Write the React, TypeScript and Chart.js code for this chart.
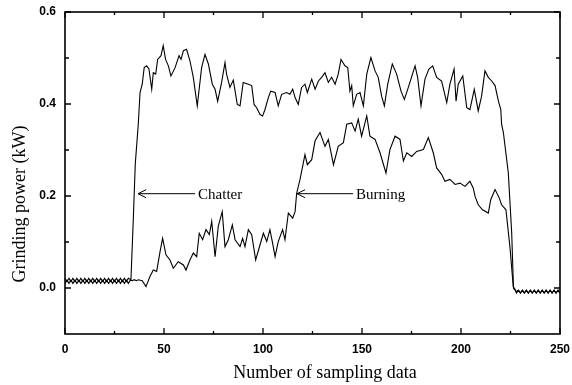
import React, { useEffect, useRef } from "react";
import { Chart, registerables } from "chart.js";

Chart.register(...registerables);

// Upper trace (chatter)
const upperX = [
  0, 1, 2, 3, 4, 5, 6, 7, 8, 9, 10, 11, 12, 13, 14, 15, 16, 17, 18, 19, 20, 21, 22, 23, 24, 25, 26, 27, 28, 29, 30, 31, 32,
  33.3, 34.5, 35.5, 37, 37.9, 39, 40, 41.2, 42.4, 43.8, 44.6, 45.8, 46.8, 48.5, 49.6, 50.8, 52.2, 53.5, 55.6, 57.6, 58.6,
  59.8, 61.4, 63.1, 64.8, 66.8, 69, 70.7, 72.4, 74.4, 75.8, 77.1, 79.1, 80.8, 81.6, 83.3, 85, 87, 88.4, 90, 92.6, 94.3,
  95.5, 96.8, 98.5, 99.8, 101, 102.7, 103.9, 106.1, 107.7, 109.4, 111.9, 113.6, 115, 116.2, 117.8, 119.5, 121.2, 122.4,
  124.6, 126.3, 128, 129.6, 131.3, 133, 134.7, 136.4, 138, 139.4, 141.4, 142.8, 143.9, 144.8, 145.6, 147.3, 149, 150.7,
  152.4, 154.5, 156.6, 158.2, 159.9, 161.3, 163, 165.3, 167.5, 169.7, 171.4, 173.4, 176.8, 178.1, 179.8, 181.8, 183.8,
  185.7, 187.7, 190.2, 192.8, 194.4, 196.5, 197.5, 198.6, 200.9, 202.9, 204.5, 206.7, 208.7, 210.4, 212.1, 213.8, 215.5,
  217.2, 218.9, 220.1, 220.5, 221.4, 223.9, 225.6, 226.5, 227.5,
  228, 229, 230, 231, 232, 233, 234, 235, 236, 237, 238, 239, 240, 241, 242, 243, 244, 245, 246, 247, 248, 249, 250,
];
const upperY = [
  0.021, 0.014, 0.021, 0.014, 0.021, 0.014, 0.021, 0.014, 0.021, 0.014, 0.021, 0.014, 0.021, 0.014, 0.021, 0.014, 0.021,
  0.014, 0.021, 0.014, 0.021, 0.014, 0.021, 0.014, 0.021, 0.014, 0.021, 0.014, 0.021, 0.014, 0.021, 0.014, 0.021,
  0.018, 0.15, 0.27, 0.356, 0.425, 0.443, 0.479, 0.483, 0.476, 0.432, 0.468, 0.465, 0.497, 0.505, 0.527, 0.497, 0.483,
  0.461, 0.479, 0.505, 0.497, 0.516, 0.519, 0.494, 0.458, 0.396, 0.479, 0.508, 0.487, 0.443, 0.432, 0.406, 0.447, 0.49,
  0.465, 0.436, 0.452, 0.399, 0.396, 0.447, 0.443, 0.44, 0.399, 0.392, 0.377, 0.374, 0.388, 0.414, 0.428, 0.425, 0.396,
  0.421, 0.425, 0.421, 0.432, 0.414, 0.399, 0.436, 0.443, 0.425, 0.454, 0.432, 0.45, 0.458, 0.468, 0.447, 0.458, 0.443,
  0.465, 0.497, 0.483, 0.479, 0.428, 0.44, 0.396, 0.421, 0.425, 0.396, 0.465, 0.501, 0.472, 0.458, 0.417, 0.396, 0.443,
  0.487, 0.465, 0.428, 0.41, 0.436, 0.483, 0.458, 0.396, 0.454, 0.476, 0.483, 0.458, 0.45, 0.403, 0.443, 0.476, 0.406,
  0.443, 0.461, 0.392, 0.388, 0.432, 0.385, 0.417, 0.472, 0.458, 0.45, 0.44, 0.406, 0.388, 0.356, 0.338, 0.25, 0.12, 0.0,
  -0.006,
  -0.011, -0.005, -0.011, -0.005, -0.011, -0.005, -0.011, -0.005, -0.011, -0.005, -0.011, -0.005, -0.011, -0.005, -0.011,
  -0.005, -0.011, -0.005, -0.011, -0.005, -0.011, -0.005, -0.011,
];

// Lower trace (burning)
const lowerX = [
  0, 1, 2, 3, 4, 5, 6, 7, 8, 9, 10, 11, 12, 13, 14, 15, 16, 17, 18, 19, 20, 21, 22, 23, 24, 25, 26, 27, 28, 29, 30, 31, 32,
  33, 34, 35, 36, 37, 38, 39,
  40.9, 42.9, 44.6, 46.3, 48, 49.3, 51, 53, 54.7, 57.2, 59.8, 61.1, 63.1, 64.8, 66.5, 67.8, 69.5, 71.2, 72.9, 74.1, 75.8,
  77.4, 79.4, 80.8, 82.5, 84.5, 85.9, 88.4, 89.7, 90.9, 92.6, 94.3, 96.3, 98.5, 100.2, 101.9, 103.5, 104.7, 106.1, 107.7,
  109.9, 111.1, 112.8, 115, 116.2, 117, 118.7, 121.2, 122.4, 124.6, 126.3, 128.8, 131.3, 133, 135.6, 138, 140.6, 142.3,
  144.8, 146.5, 148.1, 149.8, 152.4, 154, 156.6, 159.1, 162.1, 164.1, 166.7, 169.2, 170.9, 172.6, 175.1, 177.6, 181,
  183.5, 186, 187.7, 190.2, 191.9, 194.4, 197, 199.5, 202, 204.5, 206.2, 207.1, 208.7, 210.9, 213.8, 215, 217.2, 219.3,
  220.5, 222.7, 224.7, 226.4, 228,
  229, 230, 231, 232, 233, 234, 235, 236, 237, 238, 239, 240, 241, 242, 243, 244, 245, 246, 247, 248, 249, 250,
];
const lowerY = [
  0.010, 0.017, 0.010, 0.017, 0.010, 0.017, 0.010, 0.017, 0.010, 0.017, 0.010, 0.017, 0.010, 0.017, 0.010, 0.017, 0.010,
  0.017, 0.010, 0.017, 0.010, 0.017, 0.010, 0.017, 0.010, 0.017, 0.010, 0.017, 0.010, 0.017, 0.010, 0.017, 0.010,
  0.017, 0.016, 0.018, 0.016, 0.018, 0.017, 0.016,
  0.003, 0.025, 0.039, 0.036, 0.079, 0.108, 0.072, 0.061, 0.043, 0.057, 0.05, 0.039, 0.061, 0.076, 0.068, 0.119, 0.105,
  0.127, 0.116, 0.145, 0.068, 0.134, 0.166, 0.09, 0.105, 0.137, 0.105, 0.09, 0.108, 0.09, 0.127, 0.116, 0.061, 0.094,
  0.119, 0.101, 0.127, 0.101, 0.068, 0.101, 0.127, 0.105, 0.163, 0.152, 0.166, 0.206, 0.236, 0.29, 0.268, 0.279, 0.32,
  0.338, 0.308, 0.323, 0.268, 0.308, 0.316, 0.356, 0.359, 0.341, 0.367, 0.33, 0.374, 0.33, 0.323, 0.294, 0.25, 0.301,
  0.33, 0.323, 0.276, 0.294, 0.286, 0.297, 0.301, 0.327, 0.294, 0.261, 0.247, 0.232, 0.236, 0.225, 0.228, 0.221, 0.232,
  0.217, 0.199, 0.181, 0.17, 0.163, 0.192, 0.214, 0.196, 0.181, 0.17, 0.09, 0.003, -0.008,
  -0.005, -0.011, -0.005, -0.011, -0.005, -0.011, -0.005, -0.011, -0.005, -0.011, -0.005, -0.011, -0.005, -0.011, -0.005,
  -0.011, -0.005, -0.011, -0.005, -0.011, -0.005, -0.011,
];

const xMajorTicks = [0, 50, 100, 150, 200, 250];
const xMinorTicks = [25, 75, 125, 175, 225];
const yMajorTicks = [0.0, 0.2, 0.4, 0.6];
const yMinorTicks = [0.1, 0.3, 0.5];

const noteLabels = ["Chatter", "Burning"];
const noteTipX = [36.9, 117.2];
const noteTailX = [65.7, 145.5];
const noteY = [0.205, 0.205];

const xTitle = "Number of sampling data";
const yTitle = "Grinding power (kW)";

const SERIF = "'Liberation Serif', 'DejaVu Serif', serif";
const SANS = "'Liberation Sans', Arial, sans-serif";

const framePlugin = {
  id: "frameTicks",
  afterDraw(chart: any) {
    const { ctx, chartArea: a, scales } = chart;
    const xs = scales.x;
    const ys = scales.y;
    ctx.save();
    ctx.strokeStyle = "#000";
    ctx.lineWidth = 1.6;
    ctx.strokeRect(a.left, a.top, a.right - a.left, a.bottom - a.top);
    ctx.lineWidth = 1.3;
    const drawX = (v: number, len: number) => {
      const p = xs.getPixelForValue(v);
      ctx.beginPath();
      ctx.moveTo(p, a.bottom);
      ctx.lineTo(p, a.bottom - len);
      ctx.moveTo(p, a.top);
      ctx.lineTo(p, a.top + len);
      ctx.stroke();
    };
    const drawY = (v: number, len: number) => {
      const p = ys.getPixelForValue(v);
      ctx.beginPath();
      ctx.moveTo(a.left, p);
      ctx.lineTo(a.left + len, p);
      ctx.moveTo(a.right, p);
      ctx.lineTo(a.right - len, p);
      ctx.stroke();
    };
    xMajorTicks.forEach((v) => drawX(v, 6));
    xMinorTicks.forEach((v) => drawX(v, 3));
    yMajorTicks.forEach((v) => drawY(v, 6));
    yMinorTicks.forEach((v) => drawY(v, 4));

    // annotations
    ctx.lineWidth = 1;
    ctx.fillStyle = "#000";
    ctx.font = `15px ${SERIF}`;
    ctx.textBaseline = "middle";
    ctx.textAlign = "left";
    noteLabels.forEach((label, i) => {
      const tx = xs.getPixelForValue(noteTipX[i]);
      const ex = xs.getPixelForValue(noteTailX[i]);
      const y = ys.getPixelForValue(noteY[i]);
      ctx.beginPath();
      ctx.moveTo(tx, y);
      ctx.lineTo(ex, y);
      ctx.moveTo(tx + 8, y - 4);
      ctx.lineTo(tx, y);
      ctx.lineTo(tx + 8, y + 4);
      ctx.stroke();
      ctx.fillText(label, ex + 3, y + 1);
    });

    // axis titles
    ctx.font = `18px ${SERIF}`;
    ctx.textAlign = "center";
    ctx.textBaseline = "alphabetic";
    ctx.fillText(xTitle, a.left + 260, a.bottom + 44);
    ctx.save();
    ctx.translate(a.left - 40, a.top + 192);
    ctx.rotate(-Math.PI / 2);
    ctx.fillText(yTitle, 0, 0);
    ctx.restore();
    ctx.restore();
  },
};

export default function App() {
  const ref = useRef<HTMLCanvasElement | null>(null);
  useEffect(() => {
    if (!ref.current) return;
    const mk = (xs: number[], ys: number[]) => xs.map((x, i) => ({ x, y: ys[i] }));
    const chart = new Chart(ref.current, {
      type: "line",
      data: {
        datasets: [
          {
            label: "upper",
            data: mk(upperX, upperY),
            borderColor: "#000",
            borderWidth: 1.1,
            pointRadius: 0,
            tension: 0,
            fill: false,
          },
          {
            label: "lower",
            data: mk(lowerX, lowerY),
            borderColor: "#000",
            borderWidth: 1.1,
            pointRadius: 0,
            tension: 0,
            fill: false,
          },
        ],
      },
      options: {
        animation: false,
        responsive: false,
        devicePixelRatio: 1,
        layout: { padding: { left: 0, top: 12, right: 12, bottom: 0 } },
        plugins: { legend: { display: false }, tooltip: { enabled: false } },
        scales: {
          x: {
            type: "linear",
            min: 0,
            max: 250,
            grid: { display: false, drawTicks: false },
            border: { display: false },
            ticks: {
              stepSize: 50,
              padding: 8,
              maxRotation: 0,
              color: "#000",
              font: { family: SANS, size: 12, weight: "bold" },
            },
            afterFit: (s: any) => {
              s.height = 51;
              s.paddingLeft = 0;
              s.paddingRight = 0;
            },
          },
          y: {
            type: "linear",
            min: -0.1,
            max: 0.6,
            grid: { display: false, drawTicks: false },
            border: { display: false },
            ticks: {
              stepSize: 0.1,
              padding: 9,
              color: "#000",
              font: { family: SANS, size: 12, weight: "bold" },
              callback: (v: any) => {
                const r = Math.round(Number(v) * 10);
                return r >= 0 && r % 2 === 0 ? (r / 10).toFixed(1) : "";
              },
            },
            afterFit: (s: any) => {
              s.width = 65;
              s.paddingTop = 0;
              s.paddingBottom = 0;
            },
          },
        },
      },
      plugins: [framePlugin],
    } as any);
    return () => chart.destroy();
  }, []);
  return (
    <div style={{ position: "absolute", left: 0, top: 0, width: 572, height: 385, background: "#fff" }}>
      <canvas ref={ref} width={572} height={385} style={{ display: "block" }} />
    </div>
  );
}
